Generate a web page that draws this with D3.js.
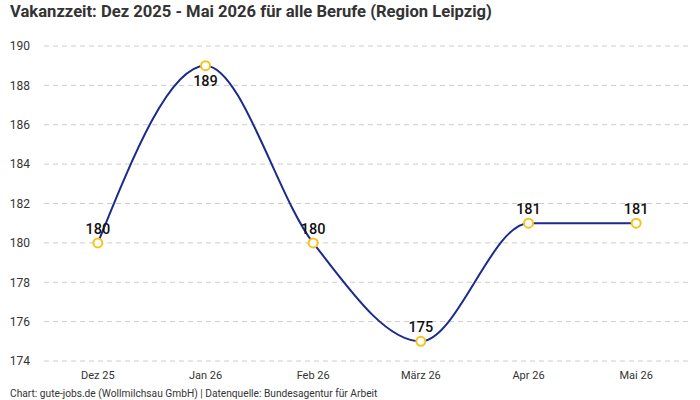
<!DOCTYPE html>
<html>
<head>
<meta charset="utf-8">
<script src="https://cdn.jsdelivr.net/npm/d3@7"></script>
<style>
  body { margin: 0; background: #fff; }
  text { font-family: Roboto, "Noto Sans", sans-serif; }
</style>
</head>
<body>
<div id="chart"></div>
<script>
// data
const months = ["Dez 25", "Jan 26", "Feb 26", "März 26", "Apr 26", "Mai 26"];
const vakanz = [180, 189, 180, 175, 181, 181];
const yTicks = [174, 176, 178, 180, 182, 184, 186, 188, 190];

const data = months.map((m, i) => ({ month: m, value: vakanz[i] }));

const width = 700, height = 400;

const svg = d3.select("#chart")
  .append("svg")
  .attr("width", width)
  .attr("height", height);

const x = d3.scaleBand()
  .domain(months)
  .range([44, 690]);

const y = d3.scaleLinear()
  .domain([174, 190])
  .range([361, 46]);

// gridlines
svg.append("g")
  .selectAll("line")
  .data(yTicks)
  .enter()
  .append("line")
  .attr("x1", 44)
  .attr("x2", 692)
  .attr("y1", d => y(d))
  .attr("y2", d => y(d))
  .attr("stroke", "#cccccc")
  .attr("stroke-dasharray", "5,4");

// y axis labels
const yAxis = svg.append("g")
  .attr("transform", "translate(30,0)")
  .call(d3.axisLeft(y).tickValues(yTicks).tickSize(0).tickPadding(0));
yAxis.select(".domain").remove();
yAxis.selectAll("text")
  .attr("font-size", 12)
  .attr("fill", "#333");

// x axis labels
const xAxis = svg.append("g")
  .attr("transform", "translate(0,371)")
  .call(d3.axisBottom(x).tickSize(0).tickPadding(0));
xAxis.select(".domain").remove();
xAxis.selectAll("text")
  .attr("font-size", 11)
  .attr("fill", "#333")
  .attr("dy", "0.71em");

const cx = d => x(d.month) + x.bandwidth() / 2;

const line = d3.line()
  .x(cx)
  .y(d => y(d.value))
  .curve(d3.curveMonotoneX);

svg.append("path")
  .datum(data)
  .attr("d", line)
  .attr("fill", "none")
  .attr("stroke", "#1a2b8c")
  .attr("stroke-width", 2);

svg.selectAll(".pt")
  .data(data)
  .enter()
  .append("circle")
  .attr("class", "pt")
  .attr("cx", cx)
  .attr("cy", d => y(d.value))
  .attr("r", 4.5)
  .attr("fill", "#fff")
  .attr("stroke", "#f7c21b")
  .attr("stroke-width", 2);

const maxVal = d3.max(vakanz);
svg.selectAll(".lbl")
  .data(data)
  .enter()
  .append("text")
  .attr("class", "lbl")
  .attr("x", cx)
  .attr("y", d => d.value === maxVal ? y(d.value) + 20 : y(d.value) - 9)
  .attr("text-anchor", "middle")
  .attr("font-size", 14.5)
  .attr("font-weight", 500)
  .attr("fill", "#111")
  .text(d => d.value);

// title
svg.append("text")
  .attr("x", 10)
  .attr("y", 17)
  .attr("font-size", 16.6)
  .attr("font-weight", "bold")
  .attr("fill", "#333")
  .text("Vakanzzeit: Dez 2025 - Mai 2026 für alle Berufe (Region Leipzig)");

// source
svg.append("text")
  .attr("x", 10)
  .attr("y", 397)
  .attr("font-size", 10.2)
  .attr("fill", "#333")
  .text("Chart: gute-jobs.de (Wollmilchsau GmbH) | Datenquelle: Bundesagentur für Arbeit");
</script>
</body>
</html>
